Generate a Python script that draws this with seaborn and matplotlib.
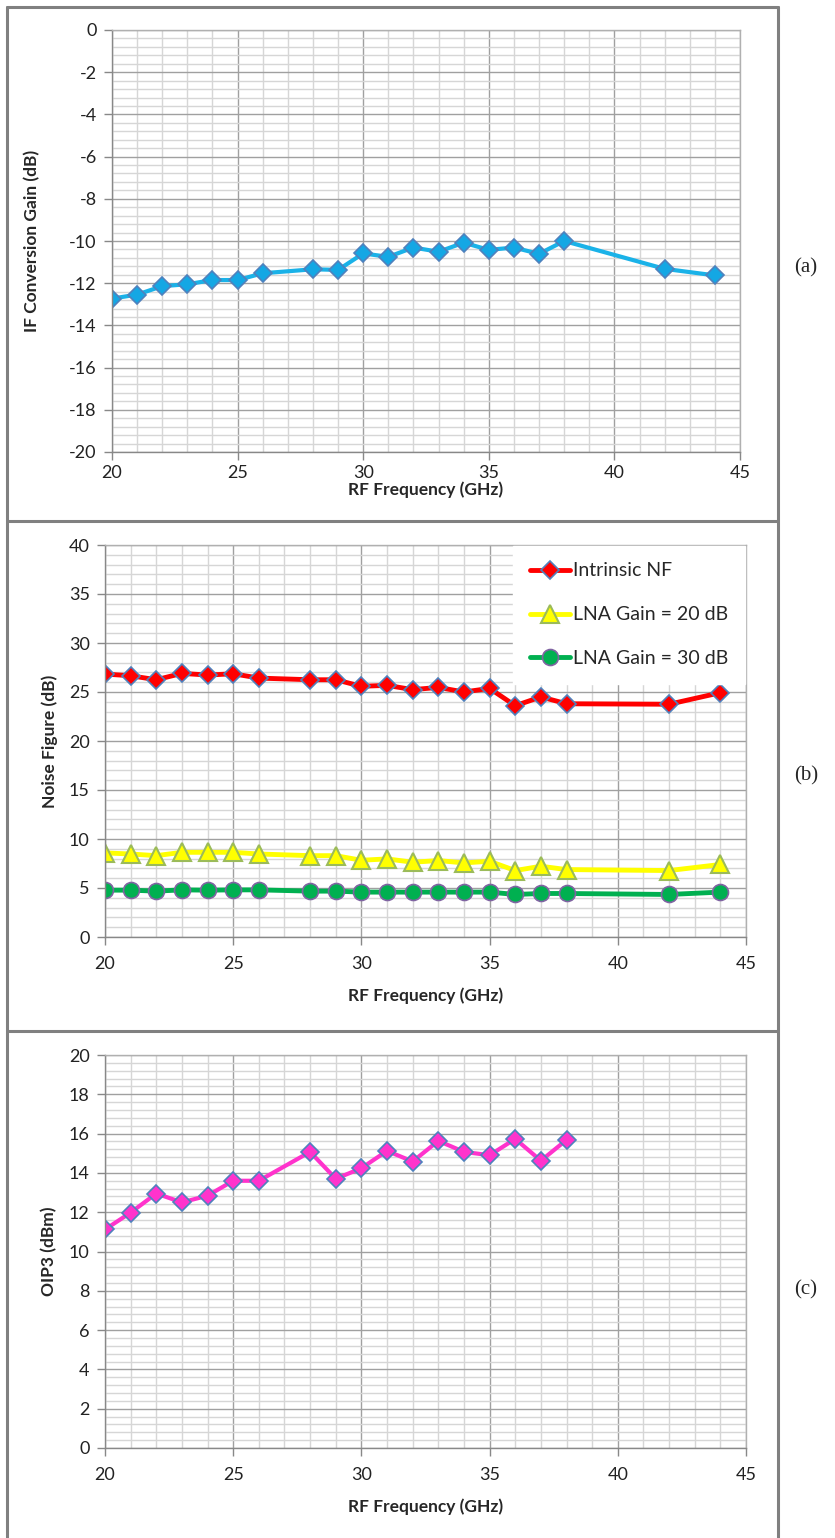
import numpy as np
import matplotlib
matplotlib.use("Agg")
import matplotlib.pyplot as plt
from matplotlib.lines import Line2D
from matplotlib.ticker import MultipleLocator
import seaborn as sns
import pandas as pd

sns.set_style("white")
plt.rcParams['font.family'] = ['Lato', 'DejaVu Sans']
plt.rcParams['axes.unicode_minus'] = False

# RF frequency points (GHz)
freq = [20, 21, 22, 23, 24, 25, 26, 28, 29, 30, 31, 32, 33, 34, 35, 36, 37, 38, 42, 44]
# (a) IF conversion gain (dB)
conv_gain = [-12.73, -12.54, -12.14, -12.05, -11.85, -11.85, -11.53, -11.34, -11.37, -10.59,
             -10.75, -10.31, -10.51, -10.08, -10.42, -10.31, -10.61, -10.0, -11.32, -11.63]
# (b) noise figure (dB)
nf_intrinsic = [26.83, 26.66, 26.25, 26.9, 26.73, 26.86, 26.42, 26.25, 26.25, 25.58,
                25.68, 25.24, 25.47, 25.0, 25.37, 23.6, 24.5, 23.8, 23.75, 24.93]
nf_lna20 = [8.58, 8.47, 8.3, 8.64, 8.64, 8.64, 8.47, 8.3, 8.3, 7.83,
            7.97, 7.63, 7.8, 7.56, 7.73, 6.78, 7.22, 6.88, 6.78, 7.4]
nf_lna30 = [4.78, 4.78, 4.68, 4.81, 4.78, 4.81, 4.81, 4.68, 4.68, 4.58,
            4.58, 4.58, 4.58, 4.58, 4.58, 4.34, 4.44, 4.44, 4.34, 4.58]
# (c) OIP3 (dBm), measured up to 38 GHz
freq_oip3 = [20, 21, 22, 23, 24, 25, 26, 28, 29, 30, 31, 32, 33, 34, 35, 36, 37, 38]
oip3 = [11.12, 11.98, 12.95, 12.5, 12.84, 13.6, 13.6, 15.07, 13.7, 14.24,
        15.12, 14.58, 15.63, 15.07, 14.9, 15.73, 14.62, 15.68]

W, H = 835, 1538
fig = plt.figure(figsize=(W / 100, H / 100), dpi=100)


def px_axes(left, right, top, bottom):
    return fig.add_axes([left / W, 1 - bottom / H, (right - left) / W, (bottom - top) / H])


def style_axes(ax, ymin, ymax, ymajor, yminor, ylabel, ylab_x, xpad, xlabpad):
    ax.set_xlim(20, 45)
    ax.set_ylim(ymin, ymax)
    ax.xaxis.set_major_locator(MultipleLocator(5))
    ax.xaxis.set_minor_locator(MultipleLocator(1))
    ax.yaxis.set_major_locator(MultipleLocator(ymajor))
    ax.yaxis.set_minor_locator(MultipleLocator(yminor))
    ax.grid(which='major', color='#a0a0a0', lw=1.0)
    ax.grid(which='minor', color='#d6d6d6', lw=1.0)
    ax.set_axisbelow(True)
    for s in ax.spines.values():
        s.set_color('#b0b0b0')
        s.set_linewidth(1.0)
    ax.spines['left'].set_color('#888888')
    ax.spines['bottom'].set_color('#888888')
    ax.tick_params(which='major', direction='out', length=6, width=1, color='#888888',
                   labelsize=13, labelcolor='#222222', left=True, bottom=True)
    ax.tick_params(axis='y', pad=5)
    ax.tick_params(axis='x', pad=xpad)
    ax.tick_params(which='minor', length=0)
    ax.set_xlabel('RF Frequency (GHz)', fontsize=12.5, fontweight='bold', labelpad=xlabpad)
    ax.set_ylabel(ylabel, fontsize=12.5, fontweight='bold')
    ax.yaxis.set_label_coords(ylab_x, 0.5)


# (a)
ax1 = px_axes(112, 740, 30, 452)
sns.lineplot(x=freq, y=conv_gain, ax=ax1, color='#1ab2e8', lw=3, marker='D',
             markersize=9.5, markerfacecolor='#14a7e4', markeredgecolor='#4f81bd',
             markeredgewidth=1.2)
style_axes(ax1, -20, 0, 2, 0.4, 'IF Conversion Gain (dB)', -0.115, 3, 1)

# (b)
ax2 = px_axes(105, 746, 545, 937)
sns.lineplot(x=freq, y=nf_intrinsic, ax=ax2, color='#ff0000', lw=3.5, marker='D',
             markersize=9.5, markerfacecolor='#ff0000', markeredgecolor='#4f81bd',
             markeredgewidth=1.2, label='Intrinsic NF')
sns.lineplot(x=freq, y=nf_lna20, ax=ax2, color='#ffff00', lw=3.5, marker='^',
             markersize=12.5, markerfacecolor='#ffff00', markeredgecolor='#9bbb59',
             markeredgewidth=1.5, label='LNA Gain = 20 dB')
sns.lineplot(x=freq, y=nf_lna30, ax=ax2, color='#00b050', lw=3.5, marker='o',
             markersize=11.5, markerfacecolor='#00b050', markeredgecolor='#8064a2',
             markeredgewidth=1.2, label='LNA Gain = 30 dB')
style_axes(ax2, 0, 40, 5, 1, 'Noise Figure (dB)', -0.074, 8, 11)
leg = ax2.legend(loc='upper right', fontsize=14, frameon=True, fancybox=False,
                 borderaxespad=0.05, handlelength=2.1, labelspacing=1.38,
                 borderpad=0.85, handletextpad=0.15, facecolor='white', edgecolor='white',
                 framealpha=1)

# (c)
ax3 = px_axes(105, 746, 1055, 1448)
sns.lineplot(x=freq_oip3, y=oip3, ax=ax3, color='#ff33cc', lw=3, marker='D',
             markersize=9.5, markerfacecolor='#ff33cc', markeredgecolor='#4f81bd',
             markeredgewidth=1.2)
style_axes(ax3, 0, 20, 2, 0.4, 'OIP3 (dBm)', -0.074, 8, 11)

# table borders
border = dict(color='#808080', lw=2.2, transform=fig.transFigure)
for y in [7, 521, 1031]:
    fig.add_artist(Line2D([7 / W, 778 / W], [1 - y / H, 1 - y / H], **border))
for x in [7, 778]:
    fig.add_artist(Line2D([x / W, x / W], [1 - 7 / H, 0], **border))

for lab, y in [('(a)', 268), ('(b)', 776), ('(c)', 1290)]:
    fig.text(806 / W, 1 - y / H, lab, family='Liberation Serif', fontsize=15,
             ha='center', va='center')

fig.savefig('out.png', dpi=100)
